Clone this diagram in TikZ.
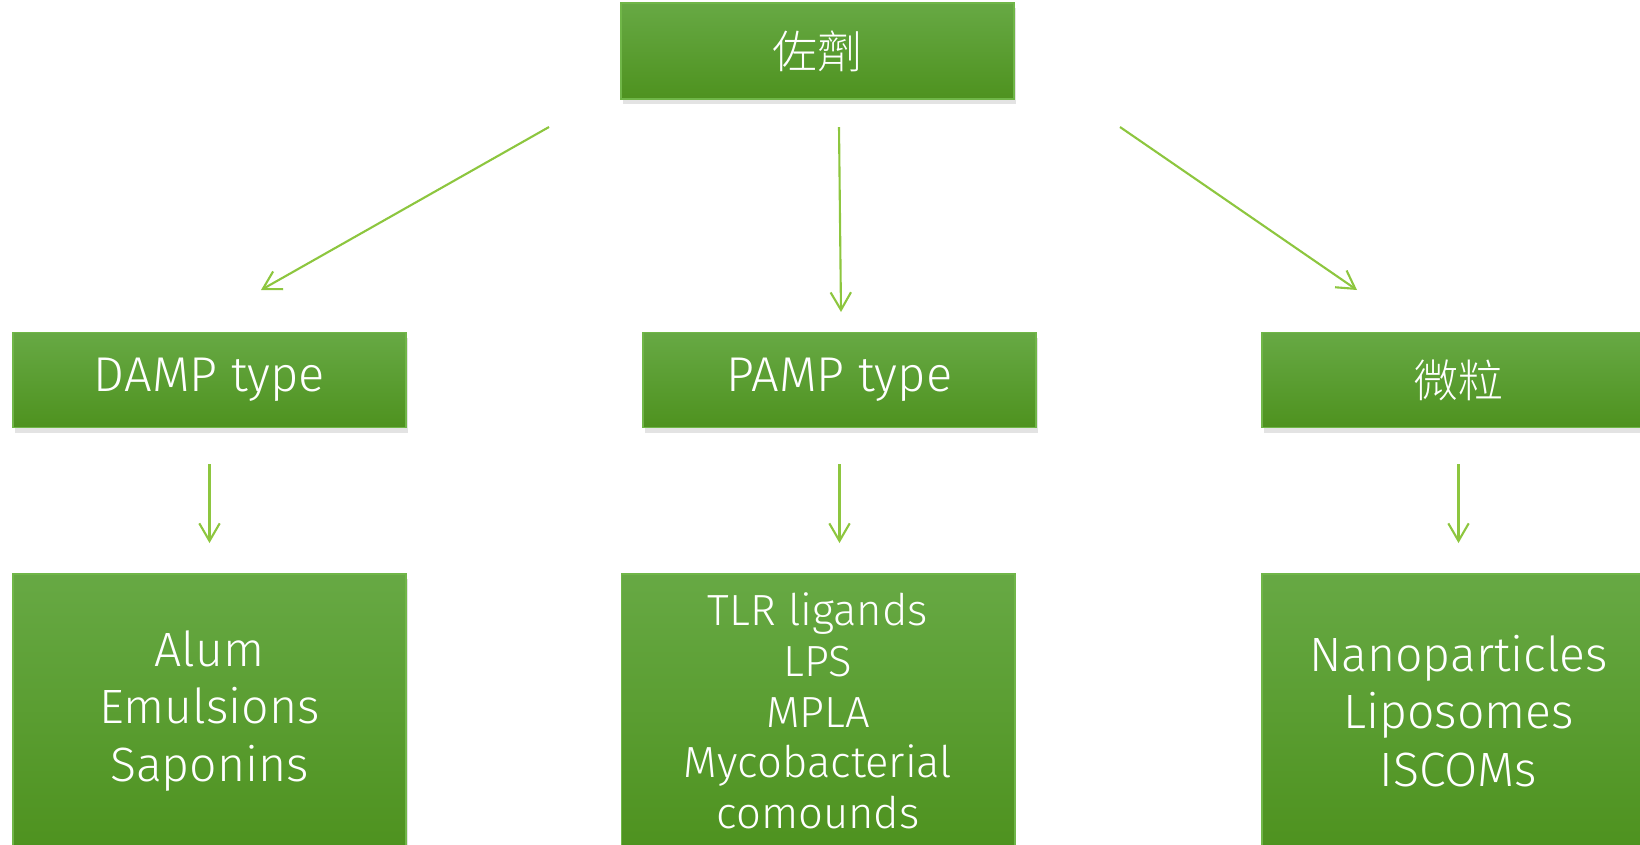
\documentclass[tikz,border=0pt]{standalone}
\usepackage{fontspec}
\setmainfont{Fira Sans}[UprightFont={* Light}]
\newfontfamily\cjk{Noto Sans CJK TC}[UprightFont={* Light}]
\usetikzlibrary{arrows.meta,shadows}

\definecolor{boxTop}{RGB}{103,169,68}
\definecolor{boxBottom}{RGB}{78,146,31}
\definecolor{boxEdge}{RGB}{112,182,72}
\definecolor{arrowGreen}{RGB}{141,198,63}

\tikzset{
  greenbox/.style={rectangle, top color=boxTop, bottom color=boxBottom,
    draw=boxEdge, line width=0.5pt, text=white, inner sep=0pt,
    minimum width=3.93cm, align=center,
    drop shadow={shadow xshift=0.5pt, shadow yshift=-1.5pt, opacity=0.22}},
  headbox/.style={greenbox, minimum height=0.95cm,
    font=\fontsize{13.9}{17}\selectfont},
  listbox/.style={greenbox, minimum height=2.74cm},
  branch/.style={draw=arrowGreen, line width=0.6pt,
    -{Straight Barb[length=5pt,width=5.8pt]}}
}

\begin{document}
\begin{tikzpicture}[x=0.01cm, y=-0.01cm]

  % The frame
  \useasboundingbox (0,0) rectangle (1640,844);
  \clip (0,0) rectangle (1640,844);

  \def \yTop   {51}
  \def \yHead  {380}
  \def \yList  {711}
  \def \xLeft  {209.5}
  \def \xMid   {839.5}
  \def \xRight {1458.5}

  % Top box
  \node[headbox, minimum height=0.96cm, font=\cjk\fontsize{12.8}{15}\selectfont]
    (adjuvant) at (817.5, \yTop) {佐劑};

  % Second level
  \node[headbox] (damp) at (\xLeft, \yHead) {DAMP type};
  \node[headbox] (pamp) at (\xMid, \yHead) {PAMP type};
  \node[headbox, font=\cjk\fontsize{12.8}{15}\selectfont]
    (particle) at (\xRight, \yHead) {微粒};

  % Lists
  \node[listbox, font=\fontsize{13.7}{16.4}\selectfont]
    (dampList) at (\xLeft, \yList) {Alum\\Emulsions\\Saponins};
  \node[listbox, font=\fontsize{12.4}{14.4}\selectfont]
    (pampList) at (818, \yList)
    {TLR ligands\\LPS\\MPLA\\Mycobacterial\\comounds};
  \node[listbox, font=\fontsize{13.7}{16.4}\selectfont]
    (particleList) at (\xRight, \yList) {Nanoparticles\\Liposomes\\ISCOMs};

  % Upper arrows
  \coordinate (toDampA) at (549, 127);
  \coordinate (toDampB) at (261, 290);
  \coordinate (toPampA) at (839, 127);
  \coordinate (toPampB) at (841, 312);
  \coordinate (toPartA) at (1120, 127);
  \coordinate (toPartB) at (1357, 290);

  \draw[branch] (toDampA) -- (toDampB);
  \draw[branch] (toPampA) -- (toPampB);
  \draw[branch] (toPartA) -- (toPartB);

  % Lower arrows
  \draw[branch, shorten <=0.36cm, shorten >=0.30cm]
    (damp.south) -- (damp.south |- dampList.north);
  \draw[branch, shorten <=0.36cm, shorten >=0.30cm]
    (pamp.south) -- (pamp.south |- pampList.north);
  \draw[branch, shorten <=0.36cm, shorten >=0.30cm]
    (particle.south) -- (particle.south |- particleList.north);

\end{tikzpicture}
\end{document}
